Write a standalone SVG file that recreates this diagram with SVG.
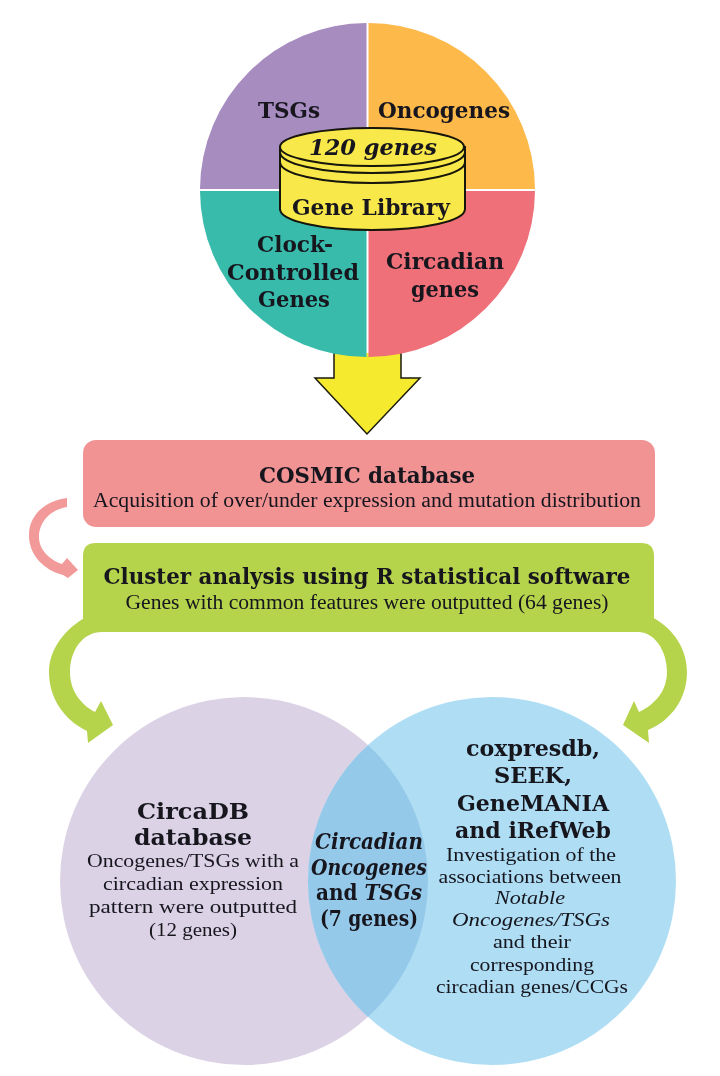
<svg xmlns="http://www.w3.org/2000/svg" width="720" height="1076" viewBox="0 0 720 1076">
<defs>
<filter id="soft" x="-5%" y="-5%" width="110%" height="110%"><feGaussianBlur stdDeviation="0.45"/></filter>
<clipPath id="lens"><circle cx="244" cy="881" r="184"/></clipPath>
</defs>
<style>
text{font-family:"DejaVu Serif","Liberation Serif",serif;text-anchor:middle;fill:#15151f}
.h{font-weight:700;font-size:23px}
.s{font-family:"Liberation Serif","DejaVu Serif",serif;font-size:20px}
.v{font-family:"Liberation Serif","DejaVu Serif",serif;font-size:19px}
.b{font-weight:700;font-size:22px}
.i{font-style:italic}
.cyl{fill:#f9e84a;stroke:#14140a;stroke-width:2}
</style>
<rect width="720" height="1076" fill="#fff"/>
<g id="connectors" filter="url(#soft)">
<path id="arrow-down" d="M334 353V378H315L367 434L420 378H401V353" fill="#f6ea2f" stroke="#1a1a10" stroke-width="1.5"/>
<path id="arrow-pink" d="M67 498C44 501 28 516 29 537C30 556 44 570 63 575L68 578L78 570L67 558L62 564C50 560 39 550 39 537C39 522 50 510 67 507Z" fill="#f29a9a"/>
<path id="arrow-green-left" d="M90 615C64 628 49 650 49 672C49 698 64 720 87 731L88 743L113 725L101 701L95 712C80 704 70 690 70 672C70 650 83 632 102 632L110 620Z" fill="#b5d34b"/>
<path id="arrow-green-right" d="M648 615C675 628 687 650 687 672C687 698 672 720 648 730L649 743L623 725L634 701L639 712C656 704 667 690 667 672C667 650 654 632 638 632L630 620Z" fill="#b5d34b"/>
</g>
<g id="gene-library" filter="url(#soft)">
<path d="M366.500 189V23A167 167 0 0 0 200 189Z" fill="#a78cc0"/>
<path d="M368.500 189V23A167 167 0 0 1 535 189Z" fill="#fdb94a"/>
<path d="M366.500 191V357A167 167 0 0 1 200 191Z" fill="#38bbab"/>
<path d="M368.500 191H535A167 167 0 0 1 368.500 357Z" fill="#ef6f78"/>
<path class="cyl" d="M280 147V209C280 221 321 230 372 230C424 230 465 221 465 209V147Z"/>
<ellipse class="cyl" cx="372" cy="147" rx="92" ry="19"/>
<path d="M280 152C280 164 321 173 372 173C424 173 465 164 465 152M280 162C280 174 321 183 372 183C424 183 465 174 465 162" fill="none" stroke="#14140a" stroke-width="2"/>
</g>
<g id="segment-labels" filter="url(#soft)">
<text class="h" x="289" y="118" lengthAdjust="spacingAndGlyphs" textLength="62">TSGs</text>
<text class="h" x="444" y="118" lengthAdjust="spacingAndGlyphs" textLength="132">Oncogenes</text>
<text class="h i" x="373" y="155" lengthAdjust="spacingAndGlyphs" textLength="128">120 genes</text>
<text class="h" x="371" y="215" lengthAdjust="spacingAndGlyphs" textLength="158">Gene Library</text>
<text class="h" x="295" y="252" lengthAdjust="spacingAndGlyphs" textLength="76">Clock-</text>
<text class="h" x="293" y="280" lengthAdjust="spacingAndGlyphs" textLength="132">Controlled</text>
<text class="h" x="294" y="307" lengthAdjust="spacingAndGlyphs" textLength="72">Genes</text>
<text class="h" x="445" y="269" lengthAdjust="spacingAndGlyphs" textLength="118">Circadian</text>
<text class="h" x="445" y="297" lengthAdjust="spacingAndGlyphs" textLength="68">genes</text>
</g>
<g id="cosmic" filter="url(#soft)">
<rect x="83" y="440" width="572" height="87" rx="13" fill="#f29393"/>
<text class="h" x="367" y="483" lengthAdjust="spacingAndGlyphs" textLength="216">COSMIC database</text>
<text class="s" x="367" y="507" lengthAdjust="spacingAndGlyphs" textLength="548">Acquisition of over/under expression and mutation distribution</text>
</g>
<g id="cluster" filter="url(#soft)">
<path d="M96 543H641Q654 543 654 556V632H83V556Q83 543 96 543Z" fill="#b5d34b"/>
<text class="h" x="367" y="584" lengthAdjust="spacingAndGlyphs" textLength="527">Cluster analysis using R statistical software</text>
<text class="s" x="367" y="609" lengthAdjust="spacingAndGlyphs" textLength="483">Genes with common features were outputted (64 genes)</text>
</g>
<g id="venn" filter="url(#soft)">
<circle id="circadb" cx="244" cy="881" r="184" fill="#dcd2e6"/>
<circle id="coexpression" cx="492" cy="881" r="184" fill="#afdef4"/>
<circle cx="492" cy="881" r="184" fill="#95c9ea" clip-path="url(#lens)"/>
</g>
<g id="venn-labels" filter="url(#soft)">
<text class="b" x="193" y="819" lengthAdjust="spacingAndGlyphs" textLength="112">CircaDB</text>
<text class="b" x="193" y="845" lengthAdjust="spacingAndGlyphs" textLength="118">database</text>
<text class="v" x="193" y="867" lengthAdjust="spacingAndGlyphs" textLength="212">Oncogenes/TSGs with a</text>
<text class="v" x="193" y="890" lengthAdjust="spacingAndGlyphs" textLength="180">circadian expression</text>
<text class="v" x="193" y="913" lengthAdjust="spacingAndGlyphs" textLength="208">pattern were outputted</text>
<text class="v" x="193" y="936" lengthAdjust="spacingAndGlyphs" textLength="88">(12 genes)</text>
<text class="b i" x="369" y="849" lengthAdjust="spacingAndGlyphs" textLength="108">Circadian</text>
<text class="b i" x="369" y="875" lengthAdjust="spacingAndGlyphs" textLength="116">Oncogenes</text>
<text class="b" x="369" y="900" lengthAdjust="spacingAndGlyphs" textLength="106">and <tspan class="i">TSGs</tspan></text>
<text class="b" x="369" y="926" lengthAdjust="spacingAndGlyphs" textLength="98">(7 genes)</text>
<text class="b" x="533" y="756" lengthAdjust="spacingAndGlyphs" textLength="134">coxpresdb,</text>
<text class="b" x="533" y="783" lengthAdjust="spacingAndGlyphs" textLength="78">SEEK,</text>
<text class="b" x="533" y="811" lengthAdjust="spacingAndGlyphs" textLength="152">GeneMANIA</text>
<text class="b" x="533" y="838" lengthAdjust="spacingAndGlyphs" textLength="156">and iRefWeb</text>
<text class="v" x="531" y="861" lengthAdjust="spacingAndGlyphs" textLength="170">Investigation of the</text>
<text class="v" x="530" y="883" lengthAdjust="spacingAndGlyphs" textLength="183">associations between</text>
<text class="v i" x="530" y="904" lengthAdjust="spacingAndGlyphs" textLength="70">Notable</text>
<text class="v i" x="531" y="926" lengthAdjust="spacingAndGlyphs" textLength="158">Oncogenes/TSGs</text>
<text class="v" x="532" y="948" lengthAdjust="spacingAndGlyphs" textLength="78">and their</text>
<text class="v" x="532" y="971" lengthAdjust="spacingAndGlyphs" textLength="124">corresponding</text>
<text class="v" x="532" y="993" lengthAdjust="spacingAndGlyphs" textLength="192">circadian genes/CCGs</text>
</g>
</svg>
